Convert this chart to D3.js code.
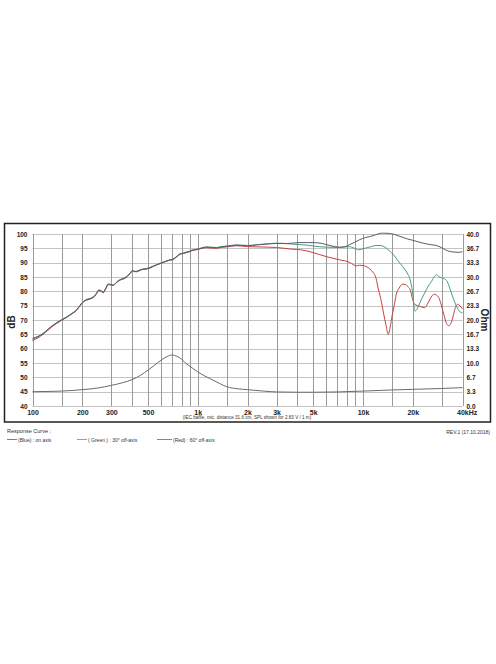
<!DOCTYPE html>
<html><head><meta charset="utf-8">
<script src="https://cdn.jsdelivr.net/npm/d3@7"></script>
<style>body{margin:0;background:#fff}svg{display:block}text{font-family:"Liberation Sans",Arial,sans-serif}</style>
</head><body>
<script>
// ---------- data ----------
const xTickValues = [100,200,300,500,1000,2000,3000,5000,10000,20000,40000];
const xTickLabels = ["100","200","300","500","1k","2k","3k","5k","10k","20k","40kHz"];
const xGridValues = [100,150,200,300,400,500,600,700,800,900,1000,1500,2000,3000,4000,5000,6000,7000,8000,9000,10000,15000,20000,30000,40000];
const dbTicks = [40,45,50,55,60,65,70,75,80,85,90,95,100];
const ohmTickLabels = ["0.0","3.3","6.7","10.0","13.3","16.7","20.0","23.3","26.7","30.0","33.3","36.7","40.0"];

const lowFreq = [100,108,116,124,131,140,150,160,168,177,185,193,200,208,217,225,233,243,252,260,268,277,287,298,308,320,330,345,362,375,388,403,415,425,440,457,480,501,530,563,600,633,670,710,745,780,820,854,890,915,960,1000,1060,1130,1210,1296,1390,1490,1600,1710,1850];
const lowDbBlue = [63.6,64.3,65.3,66.8,67.9,69.0,70.0,70.9,71.8,72.6,73.5,75.0,76.1,76.8,77.2,77.5,77.9,79.2,80.5,80.2,79.6,81.0,82.6,82.4,82.1,83.0,83.7,84.2,84.6,85.3,86.3,87.3,87.0,86.9,87.2,87.7,87.8,88.0,88.6,89.3,89.9,90.4,90.9,91.2,92.2,93.1,93.3,93.6,93.9,94.2,94.5,94.7,95.1,95.4,95.3,95.2,95.5,95.7,95.9,96.1,96.0];
const lowDbGreen = [63.3,64.1,65.4,66.6,67.8,69.1,70.1,71.0,71.7,72.7,73.6,74.8,75.9,76.9,77.4,77.6,78.1,79.0,80.2,80.1,79.9,80.8,82.3,82.3,82.2,82.9,83.6,84.3,84.8,85.4,86.1,87.0,86.9,87.0,87.3,87.6,87.9,88.1,88.7,89.2,89.8,90.3,90.8,91.3,92.0,92.9,93.4,93.7,94.0,94.3,94.6,94.8,95.2,95.5,95.4,95.3,95.6,95.8,96.0,96.2,96.1];
const lowDbRed = [62.8,63.8,65.0,66.4,67.6,68.8,69.9,70.8,71.6,72.5,73.4,74.8,75.9,76.7,77.1,77.4,77.8,79.0,80.3,80.0,79.5,80.8,82.4,82.2,82.0,82.9,83.5,84.1,84.5,85.2,86.1,87.1,86.9,86.8,87.1,87.5,87.7,87.9,88.5,89.2,89.8,90.3,90.8,91.1,92.0,92.9,93.2,93.5,93.8,94.1,94.4,94.6,95.0,95.2,95.1,95.0,95.3,95.5,95.7,95.9,95.8];

const blueHiFreq = [2000,2300,2650,3000,3500,4100,4600,5000,5660,6000,6500,7200,7800,8300,8900,9530,10400,11500,12300,13100,14400,15400,16300,17500,18500,20000,23100,25500,27700,30000,31700,33500,35600,37500,40000];
const blueHiDb = [95.9,96.2,96.5,96.7,96.7,97.0,97.0,97.0,96.7,96.3,95.8,95.4,95.6,96.3,97.1,98.0,98.8,99.4,100.0,100.3,100.2,99.9,99.4,98.8,98.3,97.8,96.8,96.3,96.0,95.2,94.4,93.9,93.7,93.6,93.8];

const greenHiFreq = [2000,2300,2650,3000,3500,4100,4600,5000,6000,7200,8300,8800,9400,9800,10400,11200,12000,12700,13400,14400,15400,16300,17400,18500,19300,19900,20300,20600,21000,21800,22600,23600,24800,26000,27200,27900,28700,29900,31700,33000,34000,35200,36500,38700,40000];
const greenHiDb = [96.0,96.3,96.6,96.8,96.6,96.3,96.1,95.8,95.4,95.3,95.6,95.1,94.5,94.7,95.1,95.6,96.0,96.0,95.6,94.2,92.6,90.6,88.6,86.4,84.0,80.0,75.5,73.1,73.4,75.2,77.3,79.4,81.8,83.5,85.4,85.8,85.2,84.7,84.1,82.2,80.0,77.5,75.2,72.8,72.5];

const redHiFreq = [2000,2300,3000,3700,4200,5000,6000,7200,8300,8800,9100,9500,10000,10400,11000,11500,12000,12300,12800,13300,13800,14200,14600,15000,15500,15900,16500,17300,18000,18700,19300,19900,20500,21400,22500,23600,24500,25300,26200,27100,28000,28900,30000,31000,32000,33000,34000,35000,35600,36500,37400,38500,40000];
const redHiDb = [95.6,95.5,95.3,94.7,94.5,93.5,92.1,91.0,90.1,89.2,88.9,89.1,89.0,88.7,87.8,86.6,84.5,81.5,77.5,72.5,68.0,65.0,67.5,71.5,75.5,79.0,81.0,82.5,82.4,81.6,80.5,77.5,75.5,75.0,74.6,74.3,75.5,77.0,78.5,79.0,78.6,77.5,74.5,71.5,68.8,68.0,68.8,71.0,72.8,74.8,75.5,75.0,73.8];

const impFreq = [100,150,200,250,300,350,400,450,500,550,600,650,700,750,800,850,900,1000,1100,1200,1350,1500,1750,2000,2500,3000,4000,5000,7000,10000,15000,20000,30000,40000];
const impOhm = [3.33,3.47,3.8,4.2,4.8,5.4,6.13,7.13,8.33,9.53,10.67,11.47,11.87,11.53,10.87,9.87,9.2,7.93,7.0,6.27,5.27,4.47,4.0,3.8,3.47,3.27,3.2,3.2,3.27,3.47,3.73,3.87,4.07,4.27];

const legendLabels = ["(Blue) : on axis","( Green ) : 30° off-axis","(Red) : 60° off-axis"];
const seriesColors = ["#5b5a6c","#4c9c80","#c8403f"];

// ---------- drawing ----------
const W = 496, H = 664;
const svg = d3.select("body").append("svg").attr("width",W).attr("height",H);

const x = d3.scaleLog().domain([100,40000]).range([32.5,462.5]);
const y = d3.scaleLinear().domain([40,100]).range([406,234]);
const yR = d3.scaleLinear().domain([0,40]).range([406,234]);

// outer frame
svg.append("rect").attr("x",4.5).attr("y",223.5).attr("width",486).attr("height",198.5)
  .attr("fill","none").attr("stroke","#222").attr("stroke-width",1.5);

// horizontal grid
svg.append("g").selectAll("line").data(dbTicks).join("line")
  .attr("x1",x(100)).attr("x2",x(40000)).attr("y1",d=>Math.round(y(d))+0.5).attr("y2",d=>Math.round(y(d))+0.5)
  .attr("stroke","#c4c4c4").attr("stroke-width",1);
// vertical grid
svg.append("g").selectAll("line").data(xGridValues).join("line")
  .attr("x1",d=>Math.round(x(d))+0.5).attr("x2",d=>Math.round(x(d))+0.5).attr("y1",y(100)).attr("y2",y(40))
  .attr("stroke","#9a9a9a").attr("stroke-width",1);

// axes
const xAxis = d3.axisBottom(x).tickValues(xTickValues).tickFormat((d,i)=>xTickLabels[i]).tickSize(0).tickPadding(4);
const gx = svg.append("g").attr("transform",`translate(0,${y(40)})`).call(xAxis);
gx.select(".domain").remove();
gx.selectAll("text").attr("font-size",7).attr("font-weight","bold").attr("fill","#222").attr("font-family","Liberation Sans, Arial, sans-serif");
gx.selectAll(".tick").filter((d,i)=>i===xTickValues.length-1).select("text").attr("text-anchor","start").attr("dx",-6);

const yAxis = d3.axisLeft(y).tickValues(dbTicks).tickFormat(d3.format("d")).tickSize(0).tickPadding(5);
const gy = svg.append("g").attr("transform",`translate(${x(100)},0)`).call(yAxis);
gy.select(".domain").remove();
gy.selectAll("text").attr("font-size",6.5).attr("font-weight","bold").attr("fill","#222").attr("font-family","Liberation Sans, Arial, sans-serif");

const yAxisR = d3.axisRight(yR).tickValues(d3.range(0,41,40/12)).tickFormat((d,i)=>ohmTickLabels[i]).tickSize(0).tickPadding(4);
const gyr = svg.append("g").attr("transform",`translate(${x(40000)},0)`).call(yAxisR);
gyr.select(".domain").remove();
gyr.selectAll("text").attr("font-size",6.5).attr("font-weight","bold").attr("fill","#222").attr("font-family","Liberation Sans, Arial, sans-serif");

// axis titles
svg.append("text").attr("transform","translate(15,322) rotate(-90)").attr("text-anchor","middle")
  .attr("font-size",10).attr("font-weight","bold").attr("fill","#222").text("dB");
svg.append("text").attr("transform","translate(481,320) rotate(90)").attr("text-anchor","middle")
  .attr("font-size",10).attr("font-weight","bold").attr("fill","#222").text("Ohm");

// caption
svg.append("text").attr("x",247).attr("y",418.5).attr("text-anchor","middle").attr("font-size",4.6).attr("fill","#333")
  .text("(IEC baffle, mic. distance 31.6 cm, SPL shown for 2.83 V / 1 m)");

// curves
const line = d3.line().x(d=>x(d[0])).y(d=>y(d[1])).curve(d3.curveMonotoneX);
const lineR = d3.line().x(d=>x(d[0])).y(d=>yR(d[1])).curve(d3.curveMonotoneX);
const zip = (a,b)=>a.map((v,i)=>[v,b[i]]);
const blue = zip(lowFreq,lowDbBlue).concat(zip(blueHiFreq,blueHiDb));
const green = zip(lowFreq,lowDbGreen).concat(zip(greenHiFreq,greenHiDb));
const red = zip(lowFreq,lowDbRed).concat(zip(redHiFreq,redHiDb));

svg.append("path").datum(red).attr("d",line).attr("fill","none").attr("stroke",seriesColors[2]).attr("stroke-width",1);
svg.append("path").datum(green).attr("d",line).attr("fill","none").attr("stroke",seriesColors[1]).attr("stroke-width",1);
svg.append("path").datum(blue).attr("d",line).attr("fill","none").attr("stroke",seriesColors[0]).attr("stroke-width",1);
svg.append("path").datum(zip(impFreq,impOhm)).attr("d",lineR).attr("fill","none").attr("stroke","#6a6a72").attr("stroke-width",1);

// legend
svg.append("text").attr("x",7).attr("y",433).attr("font-size",5.5).attr("fill","#333").text("Response Curve :");
const legX = [7,77,157];
const legLen = [10,10,15];
const lg = svg.append("g").selectAll("g").data(legendLabels).join("g");
lg.append("line").attr("x1",(d,i)=>legX[i]).attr("x2",(d,i)=>legX[i]+legLen[i]).attr("y1",439.5).attr("y2",439.5)
  .attr("stroke",(d,i)=>seriesColors[i]).attr("stroke-width",0.8);
lg.append("text").attr("x",(d,i)=>legX[i]+legLen[i]+1).attr("y",441.5).attr("font-size",5).attr("fill","#333").text(d=>d);

svg.append("text").attr("x",490).attr("y",434).attr("text-anchor","end").attr("font-size",5).attr("fill","#333").text("REV.1 (17.10.2018)");
</script>
</body></html>
